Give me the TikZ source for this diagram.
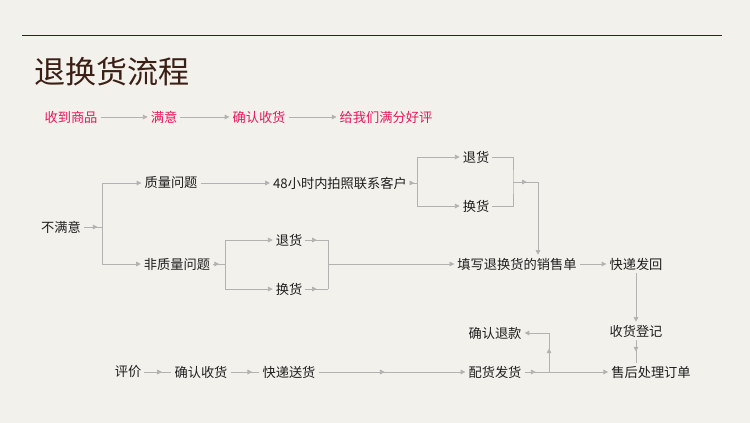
\documentclass[tikz,border=0pt]{standalone}
\usepackage{fontspec}
\setmainfont{Noto Sans CJK SC}
\usepackage{xcolor}
\usetikzlibrary{arrows.meta,decorations.markings,positioning}
\definecolor{paper}{HTML}{F2F1EC}
\definecolor{ink}{HTML}{1E1E1E}
\definecolor{rosered}{HTML}{E8175D}
\definecolor{linegray}{HTML}{B2B2B2}
\definecolor{titlebrown}{HTML}{3B1E14}
\tikzset{
  word/.style={
    inner sep = 2.5pt,
    font = \fontsize{11.3}{13}\selectfont,
    text = ink
  },
  goodword/.style={
    word,
    text = rosered
  },
  link/.style={
    draw = linegray,
    line width = 0.6pt
  },
  flow/.style={
    link,
    -{Triangle[length=4pt,width=4pt]}
  },
  midflow/.style={
    link,
    postaction = decorate,
    decoration = {markings,
      mark = at position #1 with {\arrow[linegray]{Triangle[length=4pt,width=4pt]}}}
  }
}

\begin{document}
\begin{tikzpicture}[x=0.03cm, y=-0.03cm]
        \fill[paper] (0,0) rectangle (750,423);
        \draw[titlebrown, line width=0.8pt] (22,35) -- (722,35);
        \node[text=titlebrown, font=\fontsize{26.5}{30}\selectfont, inner sep=0pt] (title) at (112,72) {退换货流程};
        % satisfied
        \node[goodword] (sd) at (71,117) {收到商品};
        \node[goodword] (my) at (164,117) {满意};
        \node[goodword] (qr) at (259,117) {确认收货};
        \node[goodword] (hp) at (386,117) {给我们满分好评};
        \draw[flow] (sd) -- (my);
        \draw[flow] (my) -- (qr);
        \draw[flow] (qr) -- (hp);
        % not satisfied
        \node[word] (bmy) at (61,227) {不满意};
        \node[word] (zl) at (171,183) {质量问题};
        \node[word] (fzl) at (177,264) {非质量问题};
        \node[word] (lx) at (340,183) {48小时内拍照联系客户};
        \node[word] (th1) at (476,157) {退货};
        \node[word] (hh1) at (476,206) {换货};
        \node[word] (th2) at (289,240) {退货};
        \node[word] (hh2) at (289,289) {换货};
        \node[word] (tx) at (517,264) {填写退换货的销售单};
        \node[word] (kdfh) at (636,264) {快递发回};
        \node[word] (shdj) at (636,331) {收货登记};
        \node[word] (shcl) at (651,372) {售后处理订单};
        \node[word] (qrtk) at (495,333) {确认退款};
        \node[word] (phfh) at (495,372) {配货发货};
        \node[word] (kdsh) at (289,372) {快递送货};
        \node[word] (qrsh) at (201,372) {确认收货};
        \node[word] (pj) at (128,372) {评价};
        \coordinate (j1) at (102,227);
        \coordinate (j2) at (417,183);
        \coordinate (j3) at (513,182);
        \coordinate (j3b) at (538,182);
        \coordinate (j4) at (225,264);
        \coordinate (j5) at (328,264);
        \coordinate (j6) at (549,372);
        \draw[midflow=0.75] (bmy) -- (j1);
        \draw[flow] (j1) |- (zl);
        \draw[flow] (j1) |- (fzl);
        \draw[flow] (zl) -- (lx);
        \draw[midflow=0.6] (lx) -- (j2);
        \draw[flow] (j2) |- (th1);
        \draw[flow] (j2) |- (hh1);
        \draw[link] (th1) -| (j3) |- (hh1);
        \draw[midflow=0.55] (j3) -- (j3b);
        \draw[flow] (j3b) -- (j3b |- tx.north);
        \draw[midflow=0.5] (fzl) -- (j4);
        \draw[flow] (j4) |- (th2);
        \draw[flow] (j4) |- (hh2);
        \draw[midflow=0.5] (th2) -- (th2 -| j5);
        \draw[midflow=0.5] (hh2) -- (hh2 -| j5);
        \draw[link] (th2 -| j5) -- (hh2 -| j5);
        \draw[flow] (j5) -- (j5 -| tx.west);
        \draw[flow] (tx) -- (kdfh);
        \draw[flow] (kdfh) -- (kdfh |- shdj.north);
        \draw[midflow=0.5] (shdj) -- (shdj |- shcl.north);
        % back to the customer
        \draw[midflow=0.65] (pj) -- (qrsh);
        \draw[midflow=0.75] (qrsh) -- (kdsh);
        \draw[flow, midflow=0.45] (kdsh) -- (phfh);
        \draw[midflow=0.45] (phfh) -- (j6);
        \draw[flow] (j6) -- (shcl);
        \draw[flow, midflow=0.37] (j6) |- (qrtk);
\end{tikzpicture}
\end{document}
